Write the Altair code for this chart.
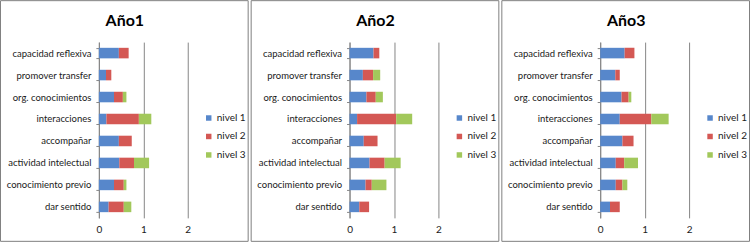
import altair as alt
import pandas as pd

categories = ["capacidad reflexiva", "promover transfer", "org. conocimientos",
              "interacciones", "accompañar", "actividad intelectual",
              "conocimiento previo", "dar sentido"]
levels = ["nivel 1", "nivel 2", "nivel 3"]
years = ["Año1", "Año2", "Año3"]
x_domain = [0, 2]

ano1_nivel1 = [0.45, 0.16, 0.34, 0.17, 0.45, 0.46, 0.34, 0.22]
ano1_nivel2 = [0.22, 0.12, 0.20, 0.73, 0.29, 0.33, 0.22, 0.34]
ano1_nivel3 = [0.00, 0.00, 0.08, 0.28, 0.00, 0.34, 0.06, 0.17]

ano2_nivel1 = [0.54, 0.30, 0.38, 0.17, 0.32, 0.45, 0.36, 0.22]
ano2_nivel2 = [0.13, 0.23, 0.21, 0.88, 0.31, 0.34, 0.14, 0.22]
ano2_nivel3 = [0.00, 0.16, 0.16, 0.36, 0.00, 0.36, 0.33, 0.00]

ano3_nivel1 = [0.55, 0.34, 0.48, 0.44, 0.50, 0.35, 0.35, 0.22]
ano3_nivel2 = [0.22, 0.10, 0.16, 0.71, 0.25, 0.19, 0.15, 0.22]
ano3_nivel3 = [0.00, 0.00, 0.06, 0.39, 0.00, 0.31, 0.11, 0.00]

colors = ["#5787CB", "#D45854", "#A2C85B"]
FONT = "Lato"
GRID = "#868686"
TEXT = "#1a1a1a"


def panel(title, n1, n2, n3):
    rows = []
    for i, (lvl, vals) in enumerate(zip(levels, [n1, n2, n3])):
        for c, v in zip(categories, vals):
            rows.append({"categoria": c, "nivel": lvl, "orden": i, "valor": v})
    df = pd.DataFrame(rows)
    bars = alt.Chart(df).mark_bar().encode(
        x=alt.X("valor:Q", stack="zero",
                scale=alt.Scale(domain=x_domain, nice=False),
                axis=alt.Axis(tickCount=2, format="d", title=None, domain=False,
                              ticks=False, grid=True, gridColor=GRID,
                              labelOverlap=False, labelFlush=False,
                              labelPadding=7, labelFontSize=10, labelFont=FONT,
                              labelColor=TEXT)),
        y=alt.Y("categoria:N", sort=categories,
                scale=alt.Scale(paddingInner=0.52, paddingOuter=0.26),
                axis=alt.Axis(title=None, tickBand="extent", domainColor=GRID,
                              tickColor=GRID, tickSize=3, labelPadding=5,
                              labelFontSize=9.5, labelFont=FONT, labelColor=TEXT)),
        color=alt.Color("nivel:N", scale=alt.Scale(domain=levels, range=colors),
                        legend=alt.Legend(title=None, orient="none", legendX=105,
                                          legendY=71, symbolType="square",
                                          symbolSize=30, symbolStrokeWidth=0,
                                          labelFontSize=10, labelFont=FONT,
                                          labelColor=TEXT, labelOffset=3,
                                          rowPadding=8.5)),
        order=alt.Order("orden:Q"),
    )
    base = alt.Chart(pd.DataFrame({"titulo": [title]}))
    frame = base.mark_rect(
        fill="transparent", stroke="#7f7f7f", strokeWidth=1
    ).encode(x=alt.value(-98.5), x2=alt.value(149.5),
             y=alt.value(-41.5), y2=alt.value(199.5))
    head = base.mark_text(
        font=FONT, fontSize=16, fontWeight="bold", color="#000000",
        align="center", baseline="alphabetic"
    ).encode(text="titulo:N", x=alt.value(26), y=alt.value(-16))
    return alt.layer(frame, head, bars).properties(width=89, height=176)


chart = alt.hconcat(
    panel(years[0], ano1_nivel1, ano1_nivel2, ano1_nivel3),
    panel(years[1], ano2_nivel1, ano2_nivel2, ano2_nivel3),
    panel(years[2], ano3_nivel1, ano3_nivel2, ano3_nivel3),
    spacing=2,
).resolve_scale(color="independent").resolve_legend(color="independent").properties(
    padding=0, background="white"
).configure_view(strokeWidth=0)

chart.save("out.html", embed_options={"renderer": "svg", "actions": False})
